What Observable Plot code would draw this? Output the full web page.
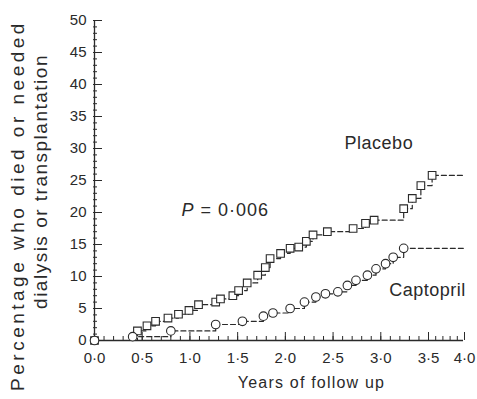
<!DOCTYPE html>
<html><head><meta charset="utf-8">
<script src="https://cdn.jsdelivr.net/npm/d3@7"></script>
<script src="https://cdn.jsdelivr.net/npm/@observablehq/plot@0.6"></script>
<style>body{margin:0;background:#fff}</style>
</head><body><div id="chart"></div>
<script>
// Event times (years) and cumulative percentage who died or needed dialysis/transplantation
const placeboYears = [0, 0.45, 0.55, 0.64, 0.77, 0.88, 0.99, 1.09, 1.27, 1.32, 1.45, 1.51, 1.6, 1.71, 1.79, 1.84, 1.95, 2.05, 2.14, 2.22, 2.29, 2.44, 2.71, 2.84, 2.93, 3.24, 3.33, 3.42, 3.55];
const placeboPct   = [0, 1.5, 2.3, 3.0, 3.5, 4.1, 4.7, 5.6, 6.0, 6.5, 7.0, 7.8, 9.0, 10.2, 11.4, 12.8, 13.6, 14.4, 14.6, 15.5, 16.5, 17.0, 17.5, 18.3, 18.8, 20.6, 22.2, 24.2, 25.8];
const captoprilYears = [0, 0.4, 0.8, 1.27, 1.55, 1.77, 1.87, 2.05, 2.2, 2.32, 2.42, 2.55, 2.65, 2.74, 2.86, 2.95, 3.05, 3.13, 3.24];
const captoprilPct   = [0, 0.6, 1.5, 2.5, 3.0, 3.8, 4.3, 5.0, 6.0, 6.8, 7.3, 7.6, 8.6, 9.4, 10.2, 11.2, 12.0, 13.0, 14.4];
const followUpEnd = 4.0;
const xTicks = [0, 0.5, 1, 1.5, 2, 2.5, 3, 3.5, 4];
const xMinorTicks = d3.range(0, 41).map(d => d / 10);
const yTicks = [0, 5, 10, 15, 20, 25, 30, 35, 40, 45, 50];
const yMinorTicks = d3.range(0, 51);
const pValueText = "P = 0·006";
const xTitle = "Years of follow up";
const yTitleLine1 = "Percentage who died or needed";
const yTitleLine2 = "dialysis or transplantation";

const build = (name, years, pct) => years.map((t, i) => ({group: name, t, v: pct[i]}));
const placebo = build("Placebo", placeboYears, placeboPct);
const captopril = build("Captopril", captoprilYears, captoprilPct);
const withEnd = (arr) => [...arr, {...arr[arr.length - 1], t: followUpEnd}];
const lines = [...withEnd(placebo), ...withEnd(captopril)];
const ink = "#2a2a2a";

const chart = Plot.plot({
  width: 477,
  height: 399,
  marginLeft: 93,
  marginRight: 14,
  marginTop: 20,
  marginBottom: 59,
  style: {fontFamily: "'Liberation Sans', Arial, sans-serif", color: ink, background: "#fff"},
  x: {type: "linear", domain: [0, 3.5, 4], range: [94, 428, 464]},
  y: {domain: [0, 50], range: [340, 20]},
  marks: [
    Plot.ruleX([0], {stroke: ink, strokeWidth: 1.3}),
    Plot.ruleY([0], {stroke: ink, strokeWidth: 1.3}),
    Plot.axisY({ticks: yMinorTicks, tickSize: -4, text: null, stroke: ink, label: null}),
    Plot.axisY({ticks: yTicks, tickSize: -9, text: null, stroke: ink, label: null}),
    Plot.axisY({ticks: yTicks, tickSize: 0, tickPadding: 7, fontSize: 15, tickFormat: d => String(d), label: null}),
    Plot.axisX({ticks: xMinorTicks, tickSize: -4, text: null, stroke: ink, label: null}),
    Plot.axisX({ticks: xTicks, tickSize: -8, text: null, stroke: ink, label: null}),
    Plot.axisX({ticks: xTicks, tickSize: 0, tickPadding: 12, fontSize: 15,
      tickFormat: d => d.toFixed(1).replace(".", "·"), label: null}),
    Plot.text([xTitle], {frameAnchor: "bottom", textAnchor: "middle", dx: 33, dy: 47, text: d => d, fontSize: 16, fill: ink}),
    Plot.text([yTitleLine1], {frameAnchor: "left", textAnchor: "middle", rotate: -90, dx: -76, dy: 25, text: d => d, fontSize: 19, fill: ink}),
    Plot.text([yTitleLine2], {frameAnchor: "left", textAnchor: "middle", rotate: -90, dx: -53, dy: 1, text: d => d, fontSize: 19, fill: ink}),
    Plot.line(lines, {x: "t", y: "v", z: "group", curve: "step-after", stroke: ink, strokeWidth: 1.2, strokeDasharray: "5,3"}),
    Plot.dot(placebo, {x: "t", y: "v", symbol: "square", r: 4.3, stroke: ink, strokeWidth: 1.1, fill: "white"}),
    Plot.dot(captopril, {x: "t", y: "v", symbol: "circle", r: 4.3, stroke: ink, strokeWidth: 1.1, fill: "white"}),
    Plot.text(["Placebo"], {x: 2.98, y: 30.8, text: d => d, fontSize: 18, fill: ink}),
    Plot.text(["Captopril"], {x: 3.49, y: 7.8, text: d => d, fontSize: 18, fill: ink}),
    Plot.text([pValueText], {x: 1.37, y: 20.3, text: d => d, fontSize: 18, fill: ink})
  ]
});

// letter spacing tweaks to match the scanned typography
const svg = d3.select(chart);
const spacing = new Map([[yTitleLine1, 3.5], [yTitleLine2, 1.5], [xTitle, 1.2], ["Placebo", 0.5], ["Captopril", 0.5], [pValueText, 1]]);
svg.selectAll("text").each(function () {
  const t = this.textContent;
  if (spacing.has(t)) d3.select(this).attr("letter-spacing", spacing.get(t));
  if (t === pValueText) {
    const el = d3.select(this);
    el.text(null);
    el.append("tspan").attr("font-style", "italic").text("P");
    el.append("tspan").text(" = 0·006");
  }
});
document.getElementById("chart").appendChild(chart);
</script>
</body></html>
